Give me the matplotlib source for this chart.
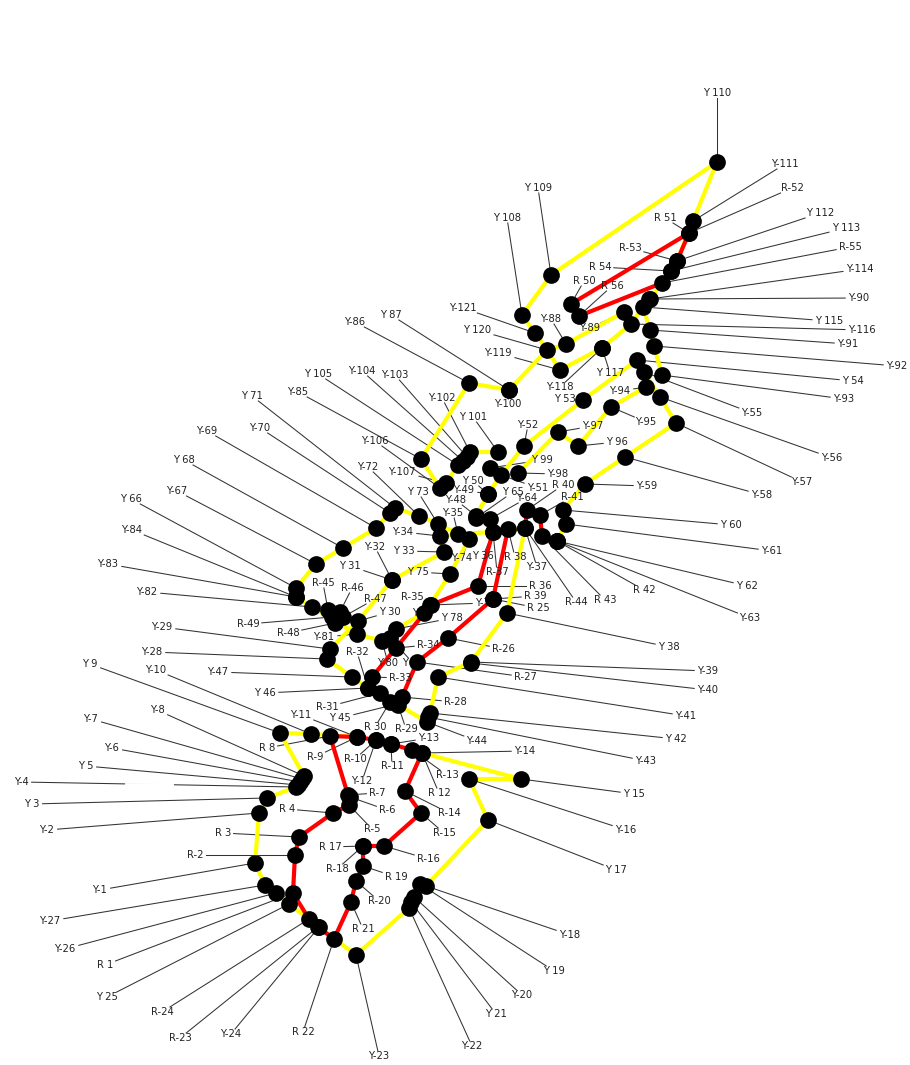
import numpy as np
import matplotlib
matplotlib.use('Agg')
import matplotlib.pyplot as plt

# node positions and label positions, in image pixels
# index + 1 is the residue number
yellow_text = ['Y-1', 'Y-2', 'Y 3', 'Y-4', 'Y 5', 'Y-6', 'Y-7', 'Y-8', 'Y 9', 'Y-10',
               'Y-11', 'Y-12', 'Y-13', 'Y-14', 'Y 15', 'Y-16', 'Y 17', 'Y-18', 'Y 19', 'Y-20',
               'Y 21', 'Y-22', 'Y-23', 'Y-24', 'Y 25', 'Y-26', 'Y-27', 'Y-28', 'Y-29', 'Y 30',
               'Y 31', 'Y-32', 'Y 33', 'Y-34', 'Y-35', 'Y 36', 'Y-37', 'Y 38', 'Y-39', 'Y-40',
               'Y-41', 'Y 42', 'Y-43', 'Y-44', 'Y 45', 'Y 46', 'Y-47', 'Y-48', 'Y-49', 'Y 50',
               'Y-51', 'Y-52', 'Y 53', 'Y 54', 'Y-55', 'Y-56', 'Y-57', 'Y-58', 'Y-59', 'Y 60',
               'Y-61', 'Y 62', 'Y-63', 'Y-64', 'Y 65', 'Y 66', 'Y-67', 'Y 68', 'Y-69', 'Y-70',
               'Y 71', 'Y-72', 'Y 73', 'Y-74', 'Y 75', 'Y-76', 'Y-77', 'Y 78', 'Y 79', 'Y-80',
               'Y-81', 'Y-82', 'Y-83', 'Y-84', 'Y-85', 'Y-86', 'Y 87', 'Y-88', 'Y-89', 'Y-90',
               'Y-91', 'Y-92', 'Y-93', 'Y-94', 'Y-95', 'Y 96', 'Y-97', 'Y-98', 'Y 99', 'Y-100',
               'Y 101', 'Y-102', 'Y-103', 'Y-104', 'Y 105', 'Y-106', 'Y-107', 'Y 108', 'Y 109', 'Y 110',
               'Y-111', 'Y 112', 'Y 113', 'Y-114', 'Y 115', 'Y-116', 'Y 117', 'Y-118', 'Y-119', 'Y 120',
               'Y-121']
yellow_x = [255, 259, 267, 296, 298, 300, 302, 304, 280, 311,
            357, 376, 391, 422, 521, 469, 488, 426, 420, 414,
            411, 409, 356, 319, 289, 276, 265, 327, 330, 358,
            392, 392, 444, 440, 458, 493, 525, 507, 471, 471,
            438, 430, 428, 427, 397, 368, 352, 476, 488, 488,
            501, 524, 583, 637, 644, 660, 676, 625, 585, 563,
            566, 557, 557, 490, 476, 296, 316, 343, 376, 390,
            395, 419, 438, 469, 450, 430, 424, 396, 390, 382,
            357, 312, 296, 296, 421, 469, 509, 566, 624, 649,
            650, 654, 662, 646, 611, 578, 558, 518, 490, 509,
            498, 470, 467, 463, 458, 440, 446, 522, 551, 717,
            693, 677, 671, 650, 643, 631, 602, 602, 560, 547,
            535]
yellow_y = [863, 813, 798, 787, 785, 782, 779, 776, 733, 734,
            737, 740, 744, 753, 779, 779, 820, 886, 884, 897,
            902, 908, 955, 927, 904, 893, 885, 659, 649, 621,
            580, 580, 552, 536, 534, 532, 528, 613, 662, 663,
            677, 713, 717, 722, 704, 688, 677, 516, 494, 494,
            475, 446, 400, 360, 372, 397, 423, 457, 484, 510,
            524, 541, 541, 519, 518, 588, 564, 548, 528, 513,
            508, 516, 524, 539, 574, 605, 613, 629, 638, 641,
            634, 607, 597, 597, 459, 383, 390, 344, 312, 299,
            330, 346, 375, 387, 407, 446, 432, 473, 468, 390,
            452, 452, 457, 461, 465, 488, 483, 315, 275, 162,
            221, 261, 271, 299, 307, 324, 348, 348, 370, 350,
            333]
yellow_label_x = [100, 47, 32, 21, 86, 112, 91, 157, 90, 156,
                  301, 362, 429, 525, 634, 626, 616, 570, 554, 522,
                  496, 472, 379, 231, 107, 65, 50, 152, 162, 390,
                  350, 375, 404, 403, 453, 483, 537, 669, 708, 708,
                  686, 676, 646, 477, 340, 265, 218, 456, 464, 473,
                  538, 528, 565, 853, 752, 832, 802, 762, 647, 731,
                  772, 747, 750, 527, 513, 131, 177, 184, 207, 260,
                  252, 368, 418, 462, 418, 486, 423, 452, 413, 388,
                  324, 147, 108, 132, 298, 355, 391, 551, 590, 859,
                  848, 897, 844, 620, 646, 617, 593, 558, 542, 508,
                  473, 442, 395, 362, 318, 375, 402, 507, 538, 717,
                  785, 820, 846, 860, 829, 862, 610, 560, 498, 477,
                  463]
yellow_label_y = [890, 830, 804, 782, 766, 748, 719, 710, 664, 670,
                  715, 781, 738, 751, 794, 830, 870, 935, 971, 995,
                  1014, 1046, 1056, 1034, 997, 949, 921, 652, 627, 612,
                  566, 547, 551, 532, 513, 556, 567, 647, 671, 690,
                  716, 739, 761, 741, 718, 693, 672, 500, 490, 481,
                  488, 425, 399, 381, 413, 458, 482, 495, 486, 525,
                  551, 586, 618, 498, 492, 499, 491, 460, 431, 428,
                  396, 467, 492, 558, 572, 603, 613, 618, 663, 663,
                  637, 592, 564, 530, 392, 322, 315, 319, 328, 298,
                  344, 366, 399, 391, 422, 442, 426, 474, 460, 404,
                  417, 398, 375, 371, 374, 441, 472, 218, 188, 93,
                  164, 213, 228, 269, 321, 330, 373, 387, 353, 330,
                  308]

red_text = ['R 1', 'R-2', 'R 3', 'R 4', 'R-5', 'R-6', 'R-7', 'R 8', 'R-9', 'R-10',
            'R-11', 'R 12', 'R-13', 'R-14', 'R-15', 'R-16', 'R 17', 'R-18', 'R 19', 'R-20',
            'R 21', 'R 22', 'R-23', 'R-24', 'R 25', 'R-26', 'R-27', 'R-28', 'R-29', 'R 30',
            'R-31', 'R-32', 'R-33', 'R-34', 'R-35', 'R 36', 'R-37', 'R 38', 'R 39', 'R 40',
            'R-41', 'R 42', 'R 43', 'R-44', 'R-45', 'R-46', 'R-47', 'R-48', 'R-49', 'R 50',
            'R 51', 'R-52', 'R-53', 'R 54', 'R-55', 'R 56']
red_x = [293, 295, 299, 333, 349, 350, 348, 330, 357, 376,
         391, 422, 412, 405, 421, 384, 363, 363, 363, 356,
         351, 334, 318, 309, 493, 448, 417, 402, 398, 390,
         380, 368, 372, 396, 431, 478, 493, 508, 493, 527,
         540, 557, 542, 525, 328, 340, 343, 335, 332, 571,
         689, 689, 677, 671, 662, 579]
red_y = [893, 855, 837, 813, 805, 797, 795, 736, 737, 740,
         744, 753, 750, 791, 813, 846, 846, 846, 866, 881,
         902, 939, 927, 919, 599, 638, 662, 697, 705, 702,
         693, 688, 677, 648, 605, 586, 532, 529, 599, 510,
         515, 541, 536, 528, 610, 612, 617, 623, 617, 304,
         233, 233, 261, 271, 283, 316]
red_label_x = [105, 195, 223, 287, 372, 387, 377, 267, 315, 355,
               392, 439, 447, 449, 444, 428, 330, 337, 396, 379,
               363, 303, 180, 162, 538, 503, 525, 455, 406, 375,
               327, 357, 400, 428, 412, 540, 497, 515, 535, 563,
               572, 644, 605, 576, 323, 352, 375, 288, 248, 584,
               665, 792, 630, 600, 850, 612]
red_label_y = [965, 855, 833, 809, 829, 810, 793, 748, 757, 759,
               766, 793, 775, 813, 833, 859, 847, 869, 877, 901,
               929, 1032, 1038, 1012, 608, 649, 677, 702, 729, 727,
               707, 652, 678, 645, 597, 586, 572, 557, 596, 485,
               497, 590, 600, 602, 583, 588, 599, 633, 624, 281,
               218, 188, 248, 267, 247, 286]

# backbone runs, as residue numbers
yellow_runs = [
    [27, 26, 25, 24, 23, 22, 21, 20, 19, 18, 17, 16, 15, 14],
    [27, 1, 2, 3, 4, 5, 6, 7, 8, 9, 10, 11],
    [28, 29, 30, 31, 33, 34, 35, 36, 37, 38, 39, 41, 42, 43, 44, 45, 46, 47, 28],
    [48, 49, 51, 52, 53, 54, 55, 56, 57, 58, 59, 60, 61, 62],
    [66, 67, 68, 69, 70, 71, 72, 73, 74, 75, 76, 77, 78, 79, 80, 81, 82, 83, 66],
    [85, 86, 87, 100, 120, 88, 89],
    [85, 106, 107, 105, 104, 103, 102, 101],
    [98, 97, 96, 95, 94],
    [111, 110, 109, 108, 121, 120, 119, 117, 116, 115, 91, 92, 93],
    [111, 112, 113, 114, 90, 115],
]
red_runs = [
    [24, 1, 2, 3, 4, 5, 6, 7, 8, 9, 10, 11, 13, 12, 14, 15, 16, 17, 19, 20, 21, 22, 23, 24],
    [39, 25, 26, 27, 28, 29, 30, 31, 32, 33, 34, 35, 36, 37],
    [38, 39],
    [40, 44],
    [41, 43],
    [50, 51, 53, 54, 55, 56],
]
# small white break in the Y-4 leader
gap_x = [127, 171]
gap_y = [785, 785]

font_size = 7.2


def leader_end(nx, ny, lx, ly, text):
    # stop the leader at the edge of the label box
    dx, dy = lx - nx, ly - ny
    half_w = len(text) * 3.2 + 1
    half_h = 5
    t = min(half_w / max(abs(dx), 1e-6), half_h / max(abs(dy), 1e-6), 1)
    return lx - dx * t, ly - dy * t


fig = plt.figure(figsize=(9.1, 10.65), dpi=100)
ax = fig.add_axes([0, 0, 1, 1])
ax.set_xlim(0, 910)
ax.set_ylim(1065, 0)
ax.axis('off')

for texts, xs, ys, lxs, lys in [(yellow_text, yellow_x, yellow_y, yellow_label_x, yellow_label_y),
                                (red_text, red_x, red_y, red_label_x, red_label_y)]:
    for text, nx, ny, lx, ly in zip(texts, xs, ys, lxs, lys):
        ex, ey = leader_end(nx, ny, lx, ly, text)
        ax.plot([nx, ex], [ny, ey], color='#333333', linewidth=0.75, zorder=1)
        ax.text(lx, ly, text, fontsize=font_size, color='#222222', ha='center', va='center', zorder=4.5)

ax.plot(gap_x, gap_y, color='white', linewidth=3.5, zorder=1.5)

yx, yy = np.array(yellow_x), np.array(yellow_y)
for run in yellow_runs:
    idx = np.array(run) - 1
    ax.plot(yx[idx], yy[idx], color='#ffff00', linewidth=3, solid_joinstyle='round', zorder=3)

rx, ry = np.array(red_x), np.array(red_y)
for run in red_runs:
    idx = np.array(run) - 1
    ax.plot(rx[idx], ry[idx], color='#ff0000', linewidth=3, solid_joinstyle='round', zorder=4)

ax.scatter(yellow_x, yellow_y, s=145, color='black', linewidths=0, zorder=5)
ax.scatter(red_x, red_y, s=145, color='black', linewidths=0, zorder=5)

fig.savefig('out.png', dpi=100, facecolor='white')
